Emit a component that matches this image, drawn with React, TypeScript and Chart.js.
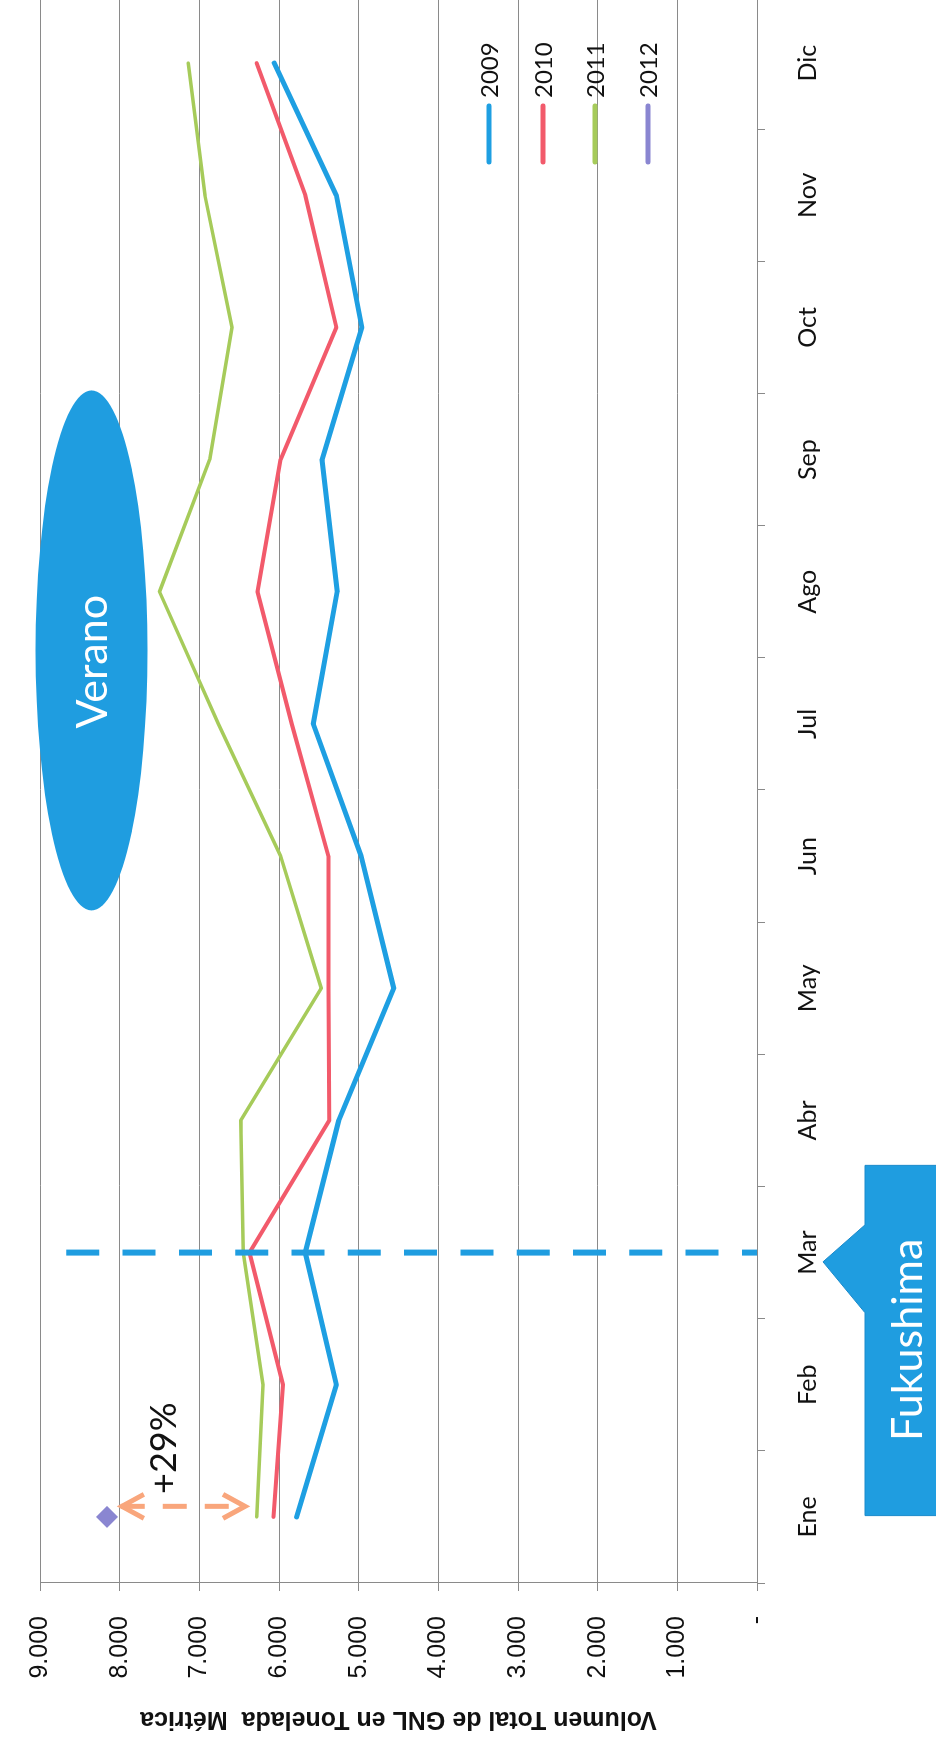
import React, { useEffect, useRef } from 'react';
import { Chart, registerables } from 'chart.js';

Chart.register(...registerables);

// ---------- data ----------
const months = ['Ene', 'Feb', 'Mar', 'Abr', 'May', 'Jun', 'Jul', 'Ago', 'Sep', 'Oct', 'Nov', 'Dic'];
const seriesNames = ['2009', '2010', '2011', '2012'];
const v2009 = [5780, 5280, 5670, 5250, 4560, 4970, 5570, 5270, 5460, 4960, 5280, 6060];
const v2010 = [6070, 5950, 6370, 5370, 5380, 5380, 5840, 6270, 5980, 5280, 5670, 6280];
const v2011 = [6280, 6200, 6450, 6480, 5470, 5980, 6760, 7500, 6870, 6590, 6930, 7140];
const v2012 = [8160, null, null, null, null, null, null, null, null, null, null, null];
const yTickLabels = ['-', '1.000', '2.000', '3.000', '4.000', '5.000', '6.000', '7.000', '8.000', '9.000'];
const yTitle = 'Volumen Total de GNL en Tonelada  Métrica';

// annotation anchors (category index / value units)
const FUKUSHIMA_INDEX = 2;
const DASH_TOP_VALUE = 8670;
const ARROW_INDEX = 0.08;
const ARROW_FROM = 8010;
const ARROW_TO = 6390;
const PCT_TEXT = '+29%';
const PCT_INDEX = 0.52;
const PCT_VALUE = 7440;
const VERANO_TEXT = 'Verano';
const VERANO_INDEX = 6.556;
const VERANO_TEXT_INDEX = 6.47;
const VERANO_VALUE = 8352;
const FUKU_TEXT = 'Fukushima';

// ---------- styles ----------
const COLORS = ['#1e9fe2', '#f25a6b', '#a6cb5a', '#8a86d1'];
const WIDTHS = [5, 4, 3.5, 4];
const GRID = '#8a8a8a';
const CALLOUT = '#1f9de0';
const ORANGE = '#f9a67c';
const CW = 1760;
const CH = 936;
const PAGE_H = 1746;

const annotPlugin = {
  id: 'annot',
  afterDatasetsDraw(chart: any) {
    const { ctx, chartArea } = chart;
    const x = chart.scales.x;
    const y = chart.scales.y;
    ctx.save();

    // Verano ellipse
    const ex = x.getPixelForValue(VERANO_INDEX);
    const ey = y.getPixelForValue(VERANO_VALUE);
    ctx.fillStyle = CALLOUT;
    ctx.beginPath();
    ctx.ellipse(ex, ey, 260, 56, 0, 0, Math.PI * 2);
    ctx.fill();
    ctx.fillStyle = '#ffffff';
    ctx.font = '43px Lato';
    ctx.textAlign = 'center';
    ctx.textBaseline = 'middle';
    ctx.fillText(VERANO_TEXT, x.getPixelForValue(VERANO_TEXT_INDEX), ey + 2);

    // Fukushima dashed line
    const xm = x.getPixelForValue(FUKUSHIMA_INDEX);
    ctx.strokeStyle = CALLOUT;
    ctx.lineWidth = 6;
    ctx.setLineDash([33, 23.3]);
    ctx.lineCap = 'butt';
    ctx.beginPath();
    ctx.moveTo(xm, y.getPixelForValue(DASH_TOP_VALUE));
    ctx.lineTo(xm, chartArea.bottom);
    ctx.stroke();
    ctx.setLineDash([]);

    // Fukushima callout box
    const bTop = chartArea.bottom + 108;
    const bBot = CH + 20;
    const bL = x.getPixelForValue(0.01);
    const bR = x.getPixelForValue(2.66);
    const p1 = x.getPixelForValue(1.545);
    const p2 = x.getPixelForValue(2.21);
    const pt = x.getPixelForValue(1.93);
    ctx.fillStyle = CALLOUT;
    ctx.strokeStyle = '#1a8acb';
    ctx.lineWidth = 1;
    ctx.beginPath();
    ctx.moveTo(bL, bTop);
    ctx.lineTo(p1, bTop);
    ctx.lineTo(pt, chartArea.bottom + 66);
    ctx.lineTo(p2, bTop);
    ctx.lineTo(bR, bTop);
    ctx.lineTo(bR, bBot);
    ctx.lineTo(bL, bBot);
    ctx.closePath();
    ctx.fill();
    ctx.stroke();
    ctx.fillStyle = '#ffffff';
    ctx.font = '43px Lato';
    ctx.textAlign = 'center';
    ctx.textBaseline = 'middle';
    ctx.fillText(FUKU_TEXT, x.getPixelForValue(1.34), chartArea.bottom + 151);

    // +29% double arrow
    const ax = x.getPixelForValue(ARROW_INDEX);
    const a1 = y.getPixelForValue(ARROW_FROM);
    const a2 = y.getPixelForValue(ARROW_TO);
    ctx.strokeStyle = ORANGE;
    ctx.lineWidth = 5;
    ctx.setLineDash([24, 18]);
    ctx.beginPath();
    ctx.moveTo(ax, a1 + 2);
    ctx.lineTo(ax, a2 - 2);
    ctx.stroke();
    ctx.setLineDash([]);
    ctx.lineJoin = 'miter';
    ctx.beginPath();
    ctx.moveTo(ax - 12, a1 + 25);
    ctx.lineTo(ax, a1 + 3);
    ctx.lineTo(ax + 12, a1 + 25);
    ctx.moveTo(ax - 12, a2 - 25);
    ctx.lineTo(ax, a2 - 3);
    ctx.lineTo(ax + 12, a2 - 25);
    ctx.stroke();

    ctx.fillStyle = '#111111';
    ctx.font = '36px Lato';
    ctx.textAlign = 'center';
    ctx.textBaseline = 'middle';
    ctx.fillText(PCT_TEXT, x.getPixelForValue(PCT_INDEX), y.getPixelForValue(PCT_VALUE));

    ctx.restore();
  },
};

const legendPlugin = {
  id: 'sideLegend',
  afterDraw(chart: any) {
    const { ctx, chartArea } = chart;
    ctx.save();
    const offsets = [449, 503, 555, 608];
    chart.data.datasets.forEach((ds: any, i: number) => {
      const yy = chartArea.top + offsets[i];
      ctx.strokeStyle = ds.borderColor;
      ctx.lineWidth = 5;
      ctx.lineCap = 'round';
      ctx.beginPath();
      ctx.moveTo(chartArea.right - 165, yy);
      ctx.lineTo(chartArea.right - 109, yy);
      ctx.stroke();
      ctx.fillStyle = '#111111';
      ctx.font = '24px Lato';
      ctx.textAlign = 'left';
      ctx.textBaseline = 'middle';
      ctx.fillText(ds.label, chartArea.right - 101, yy + 1);
    });
    ctx.restore();
  },
};

export default function App() {
  const ref = useRef<HTMLCanvasElement | null>(null);

  useEffect(() => {
    let chart: Chart | null = null;
    let cancelled = false;
    const make = () => {
      if (cancelled || !ref.current) return;
      const values = [v2009, v2010, v2011, v2012];
      chart = new Chart(ref.current, {
        type: 'line',
        data: {
          labels: months,
          datasets: seriesNames.map((name, i) => ({
            label: name,
            data: values[i],
            borderColor: COLORS[i],
            backgroundColor: COLORS[i],
            borderWidth: WIDTHS[i],
            borderCapStyle: 'round',
            borderJoinStyle: 'round',
            tension: 0,
            fill: false,
            spanGaps: false,
            pointRadius: i === 3 ? 11 : 0,
            pointStyle: 'rectRot',
            pointBackgroundColor: COLORS[i],
            pointBorderColor: COLORS[i],
            pointBorderWidth: 0,
            pointHoverRadius: i === 3 ? 11 : 0,
          })),
        },
        options: {
          animation: false,
          responsive: false,
          maintainAspectRatio: false,
          devicePixelRatio: 1,
          events: [],
          layout: { padding: { left: 0, right: 10, top: 21, bottom: 0 } },
          plugins: {
            legend: { display: false },
            tooltip: { enabled: false },
          },
          scales: {
            x: {
              type: 'category',
              offset: true,
              grid: {
                display: true,
                drawOnChartArea: false,
                drawTicks: true,
                tickLength: 8,
                color: GRID,
                offset: true,
              },
              border: { display: true, color: GRID, width: 1 },
              ticks: {
                font: { family: 'Lato', size: 25 },
                color: '#111111',
                padding: 28,
                maxRotation: 0,
                autoSkip: false,
              },
              afterFit: (s: any) => {
                s.height = 179;
              },
            },
            y: {
              min: 0,
              max: 9000,
              ticks: {
                stepSize: 1000,
                callback: (v: any) => yTickLabels[Math.round(Number(v) / 1000)],
                font: { family: 'Liberation Sans', size: 25 },
                color: '#111111',
                padding: 25,
              },
              grid: { color: GRID, tickLength: 8, lineWidth: 1 },
              border: { display: true, color: GRID, width: 1 },
              title: {
                display: true,
                text: yTitle,
                font: { family: 'Liberation Sans', size: 25, weight: 'bold' },
                color: '#111111',
                padding: { top: 12, bottom: 0 },
              },
              afterFit: (s: any) => {
                s.width = 163;
              },
            },
          },
        } as any,
        plugins: [annotPlugin, legendPlugin],
      });
    };
    const fontsReady = (document as any).fonts
      ? Promise.all([
          (document as any).fonts.load('25px Lato'),
          (document as any).fonts.load('25px "Liberation Sans"'),
          (document as any).fonts.load('bold 25px "Liberation Sans"'),
        ]).catch(() => null)
      : Promise.resolve(null);
    fontsReady.then(make);
    return () => {
      cancelled = true;
      if (chart) chart.destroy();
    };
  }, []);

  return (
    <div
      style={{
        position: 'fixed',
        left: 0,
        top: 0,
        width: 936,
        height: PAGE_H,
        overflow: 'hidden',
        background: '#ffffff',
      }}
    >
      <canvas
        ref={ref}
        width={CW}
        height={CH}
        style={{
          position: 'absolute',
          left: 0,
          top: 0,
          width: CW,
          height: CH,
          transformOrigin: '0 0',
          transform: `translate(0px, ${PAGE_H}px) rotate(-90deg)`,
        }}
      />
    </div>
  );
}
